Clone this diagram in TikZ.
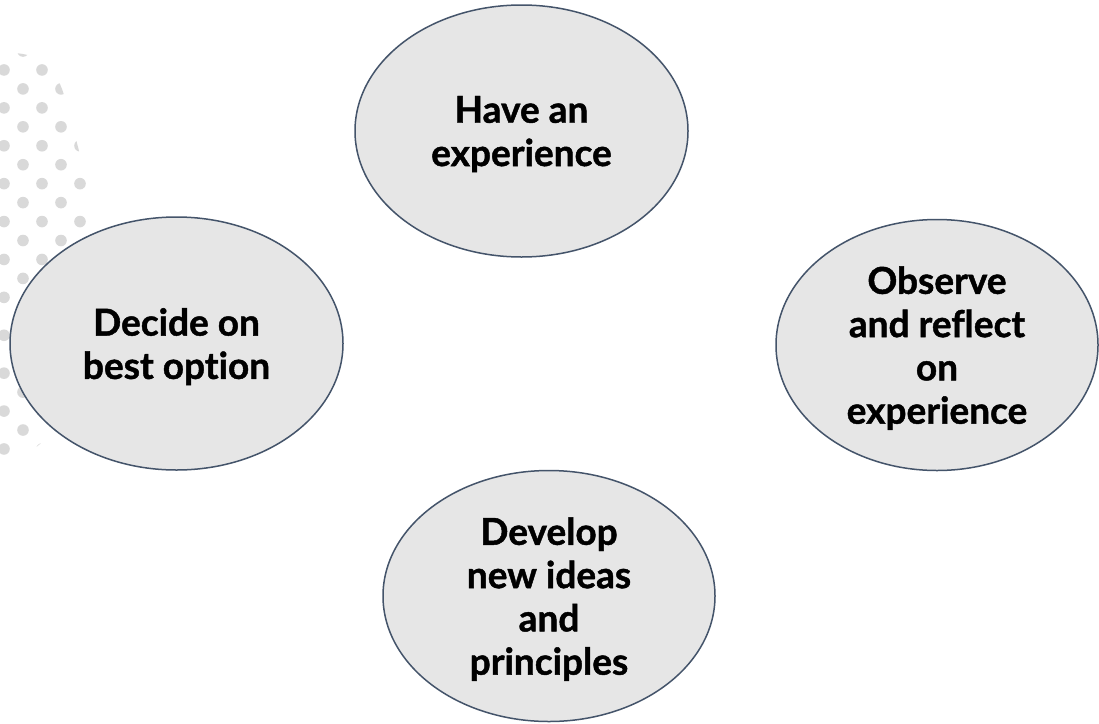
\documentclass[tikz,border=0pt]{standalone}
\usepackage{fontspec}
\setmainfont{Lato}[RawFeature={-liga}, BoldFeatures={FakeBold=1.2, RawFeature={-liga}}]
\usetikzlibrary{shapes.geometric}
\definecolor{ringline}{HTML}{44546A}
\definecolor{ringfill}{HTML}{E6E6E6}
\definecolor{dotgray}{HTML}{D9D9D9}
\begin{document}
\begin{tikzpicture}[x=1pt,y=-1pt,
  stage/.style={ellipse, draw=ringline, fill=ringfill, line width=1.5pt,
    inner sep=0pt, align=center, text depth=0pt,
    font=\fontsize{37}{43.3}\selectfont\bfseries},
  dot/.style={fill=dotgray}
]
\useasboundingbox (0,0) rectangle (1099,723);
\fill[white] (0,0) rectangle (1099,723);

% decorative dot field on the left edge
\begin{scope}
  \clip plot[smooth] coordinates {(-2,53) (23,54) (46,63) (62,89) (78,147) (87,185)}
        -- (87,300)
        -- plot[smooth] coordinates {(87,300) (75,380) (60,425) (40,444) (20,458) (-2,462)}
        -- cycle;
  \foreach \k in {0,...,21} {
    \pgfmathsetmacro\yy{51+18.95*\k}
    \pgfmathsetmacro\xo{mod(\k,2)==1 ? 4 : 23}
    \foreach \j in {0,1,2}
      \fill[dot] (\xo+38*\j,\yy) circle[radius=5.8];
  }
\end{scope}

% the four stages
\node[stage, minimum width=333pt, minimum height=252pt] (have)    at (521.5,131)   {Have an\\experience};
\node[stage, minimum width=322pt, minimum height=251pt] (observe) at (937,345)     {Observe\\and reflect\\on\\experience};
\node[stage, minimum width=332pt, minimum height=251pt] (develop) at (549,596)     {Develop\\new ideas\\and\\principles};
\node[stage, minimum width=333pt, minimum height=253pt] (decide)  at (176.5,343.5) {Decide on\\best option};
\end{tikzpicture}
\end{document}
